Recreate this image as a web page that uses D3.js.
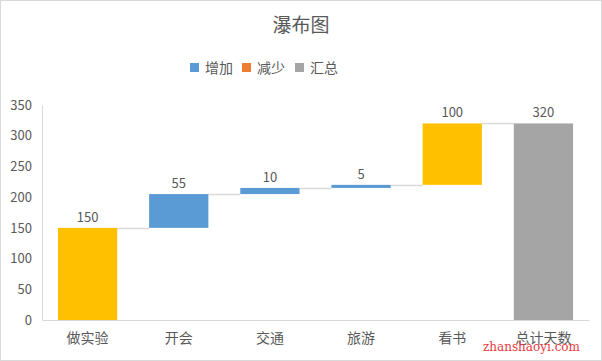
<!DOCTYPE html>
<html>
<head>
<meta charset="utf-8">
<script src="https://cdn.jsdelivr.net/npm/d3@7/dist/d3.min.js"></script>
<style>
  body { margin: 0; background: #fff; }
  svg { display: block; }
</style>
</head>
<body>
<div id="chart"></div>
<script>
// data
var categories = ["做实验", "开会", "交通", "旅游", "看书", "总计天数"];
var values = [150, 55, 10, 5, 100, 320];
var kinds = ["start", "up", "up", "up", "start", "total"]; // bar type
var legendNames = ["增加", "减少", "汇总"];
var yTicks = [0, 50, 100, 150, 200, 250, 300, 350];

createGraph();

function createGraph() {
    var width = 602, height = 361;
    var margin = { left: 42, right: 13, top: 105, bottom: 41 };
    var font = "'Noto Sans CJK SC', 'Noto Sans', sans-serif";
    var textColor = "#595959";
    var lineColor = "#d9d9d9";
    var colors = { up: "#5b9bd5", down: "#ed7d31", total: "#a5a5a5", start: "#ffc000" };
    var legendColors = ["#5b9bd5", "#ed7d31", "#a5a5a5"];

    // build bases from running total
    var running = 0;
    var bars = categories.map(function (c, i) {
        var b;
        if (kinds[i] === "total") { b = { base: 0, top: values[i] }; running = values[i]; }
        else { b = { base: running, top: running + values[i] }; running += values[i]; }
        b.cat = c; b.value = values[i]; b.kind = kinds[i];
        return b;
    });

    var svg = d3.select("#chart").append("svg")
        .attr("width", width)
        .attr("height", height);

    // outer border
    svg.append("rect")
        .attr("x", 0.5).attr("y", 0.5)
        .attr("width", width - 1).attr("height", height - 1)
        .attr("fill", "#fff").attr("stroke", lineColor);

    var x = d3.scaleBand().domain(categories)
        .range([margin.left, width - margin.right])
        .paddingInner(0.35).paddingOuter(0.175);
    var y = d3.scaleLinear().domain([0, 350])
        .range([height - margin.bottom, margin.top]);

    // title
    svg.append("text")
        .attr("x", width / 2).attr("y", 32)
        .attr("text-anchor", "middle")
        .style("font-family", font).style("font-size", "19px")
        .attr("fill", textColor)
        .text("瀑布图");

    // legend
    var legendX = [190, 242, 295];
    var legend = svg.selectAll(".legend").data(legendNames).enter().append("g")
        .attr("transform", function (d, i) { return "translate(" + legendX[i] + ",63)"; });
    legend.append("rect").attr("width", 9).attr("height", 9)
        .attr("fill", function (d, i) { return legendColors[i]; });
    legend.append("text").attr("x", 15).attr("y", 10)
        .style("font-family", font).style("font-size", "14px")
        .attr("fill", textColor)
        .text(function (d) { return d; });

    // y axis
    var yAxis = svg.append("g")
        .attr("transform", "translate(" + margin.left + ",0)")
        .call(d3.axisLeft(y).tickValues(yTicks).tickSize(0).tickPadding(10));
    yAxis.select(".domain").attr("stroke", lineColor);
    yAxis.selectAll("text").style("font-family", font).style("font-size", "13px").attr("fill", textColor);

    // x axis
    var xAxis = svg.append("g")
        .attr("transform", "translate(0," + y(0) + ")")
        .call(d3.axisBottom(x).tickSize(0).tickPadding(13));
    xAxis.select(".domain").attr("stroke", lineColor);
    xAxis.selectAll("text").style("font-family", font).style("font-size", "14px").attr("fill", textColor);

    // connectors
    for (var i = 0; i < bars.length - 1; i++) {
        var lvl = bars[i].top;
        svg.append("line")
            .attr("x1", x(bars[i].cat) + x.bandwidth())
            .attr("x2", x(bars[i + 1].cat))
            .attr("y1", Math.round(y(lvl)) + 0.5).attr("y2", Math.round(y(lvl)) + 0.5)
            .attr("stroke", lineColor).attr("stroke-width", 1.5);
    }

    // bars
    svg.selectAll(".bar").data(bars).enter().append("rect")
        .attr("x", function (d) { return x(d.cat); })
        .attr("width", x.bandwidth())
        .attr("y", function (d) { return y(d.top); })
        .attr("height", function (d) { return y(d.base) - y(d.top); })
        .attr("fill", function (d) { return colors[d.kind]; });

    // data labels
    svg.selectAll(".lbl").data(bars).enter().append("text")
        .attr("x", function (d) { return x(d.cat) + x.bandwidth() / 2; })
        .attr("y", function (d) { return y(d.top) - 6; })
        .attr("text-anchor", "middle")
        .style("font-family", font).style("font-size", "13px")
        .attr("fill", textColor)
        .text(function (d) { return d.value; });

    // watermark (overlaps the last label, as in the source image)
    svg.append("text")
        .attr("x", 483).attr("y", 351)
        .style("font-family", "'DejaVu Serif', 'Liberation Serif', serif")
        .style("font-size", "12px")
        .attr("fill", "#e8383d")
        .text("zhanshaoyi.com");
}
</script>
</body>
</html>
